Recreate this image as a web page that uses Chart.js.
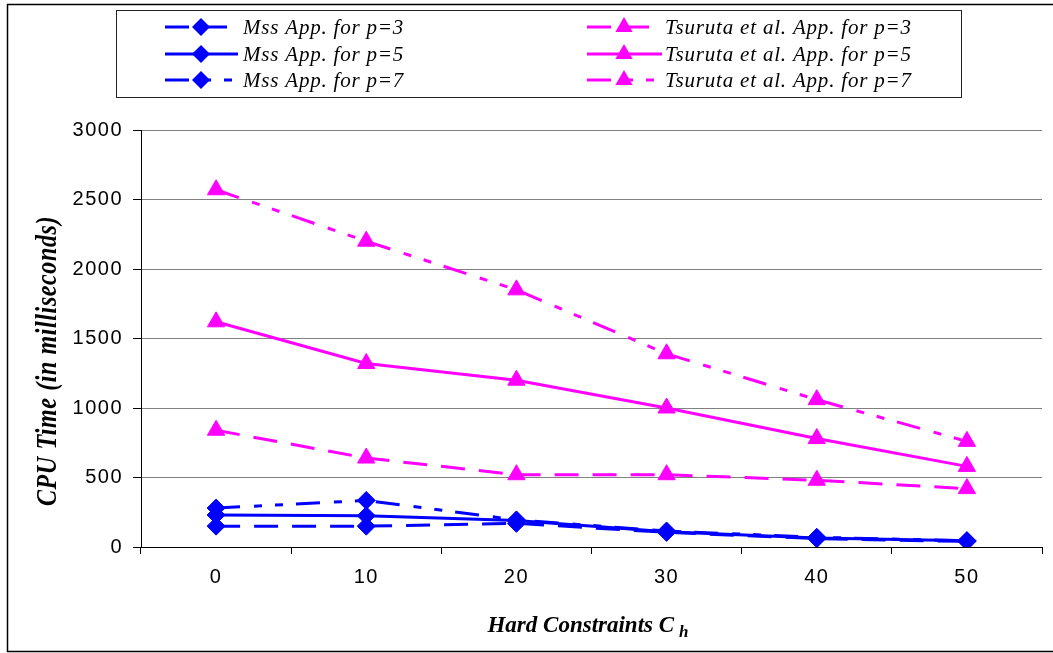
<!DOCTYPE html>
<html>
<head>
<meta charset="utf-8">
<script src="https://cdn.jsdelivr.net/npm/chart.js@4"></script>
<style>
  html, body { margin: 0; padding: 0; background: #fff; }
  #wrap { position: relative; width: 1053px; height: 653px; }
</style>
</head>
<body>
<div id="wrap"><canvas id="cpu" width="1053" height="653"></canvas></div>
<script>
// Hard constraints on the x axis
const hardConstraints = ['0', '10', '20', '30', '40', '50'];

// CPU time in milliseconds
const mssP3 = [150, 150, 170, 105, 60, 40];
const mssP5 = [230, 225, 190, 110, 65, 45];
const mssP7 = [280, 335, 195, 115, 70, 45];
const tsurutaP3 = [840, 640, 520, 520, 480, 420];
const tsurutaP5 = [1620, 1320, 1200, 1000, 780, 580];
const tsurutaP7 = [2570, 2200, 1850, 1390, 1060, 760];

// Value axis ticks
const yTickValues = [0, 500, 1000, 1500, 2000, 2500, 3000];

const seriesLabels = [
  'Mss App. for p=3', 'Mss App. for p=5', 'Mss App. for p=7',
  'Tsuruta et al. App. for p=3', 'Tsuruta et al. App. for p=5', 'Tsuruta et al. App. for p=7'
];

const BLUE = '#0000FF';
const MAGENTA = '#FF00FF';
const DASH = [24, 14];
const DASH_DOT_DOT = [24, 14, 8, 13, 8, 13];

function series(label, data, color, dash, style, radius) {
  return {
    label, data,
    borderColor: color, backgroundColor: color,
    borderWidth: 3, borderDash: dash,
    pointStyle: style, pointRadius: radius, pointHoverRadius: radius,
    pointBackgroundColor: color, pointBorderColor: color, pointBorderWidth: 1,
    tension: 0, fill: false
  };
}

const datasets = [
  series(seriesLabels[0], mssP3, BLUE, DASH, 'rectRot', 9),
  series(seriesLabels[1], mssP5, BLUE, [], 'rectRot', 9),
  series(seriesLabels[2], mssP7, BLUE, DASH_DOT_DOT, 'rectRot', 9),
  series(seriesLabels[3], tsurutaP3, MAGENTA, DASH, 'triangle', 10),
  series(seriesLabels[4], tsurutaP5, MAGENTA, [], 'triangle', 10),
  series(seriesLabels[5], tsurutaP7, MAGENTA, DASH_DOT_DOT, 'triangle', 10)
];

// Tick labels are drawn slightly letter-spaced
const tickSpacing = {
  id: 'tickSpacing',
  beforeLayout(chart) { chart.ctx.letterSpacing = '1.5px'; },
  beforeDraw(chart) { chart.ctx.letterSpacing = '1.5px'; }
};

function drawMarker(ctx, style, x, y, r, color) {
  ctx.save();
  ctx.fillStyle = color;
  ctx.beginPath();
  if (style === 'rectRot') {
    ctx.moveTo(x, y - r); ctx.lineTo(x + r, y); ctx.lineTo(x, y + r); ctx.lineTo(x - r, y);
  } else {
    const h = r * 1.5, w = r * Math.sqrt(3) / 2;
    ctx.moveTo(x, y - r); ctx.lineTo(x + w, y - r + h); ctx.lineTo(x - w, y - r + h);
  }
  ctx.closePath();
  ctx.fill();
  ctx.restore();
}

// Frame, boxed legend and axis titles
const decorations = {
  id: 'decorations',
  afterDraw(chart) {
    const ctx = chart.ctx;
    ctx.save();
    ctx.letterSpacing = '0px';

    // outer frame
    ctx.strokeStyle = '#000';
    ctx.lineWidth = 1.5;
    ctx.strokeRect(7.5, 4.5, 1060, 647);

    // legend box
    ctx.lineWidth = 1;
    ctx.strokeStyle = '#222';
    ctx.strokeRect(116.5, 10.5, 845, 87);

    const cols = [
      { x0: 165, x1: 238, mx: 201, tx: 243 },
      { x0: 587, x1: 662, mx: 624, tx: 665 }
    ];
    const rows = [27, 54, 80];
    chart.data.datasets.forEach((ds, i) => {
      const c = cols[i < 3 ? 0 : 1];
      const y = rows[i % 3];
      ctx.save();
      ctx.strokeStyle = ds.borderColor;
      ctx.lineWidth = ds.borderWidth;
      ctx.setLineDash(ds.borderDash);
      ctx.beginPath();
      ctx.moveTo(c.x0, y); ctx.lineTo(c.x1, y);
      ctx.stroke();
      ctx.restore();
      drawMarker(ctx, ds.pointStyle, c.mx, y, ds.pointRadius, ds.pointBackgroundColor);
      ctx.save();
      ctx.fillStyle = '#000';
      ctx.font = 'italic 21px "Liberation Serif"';
      ctx.letterSpacing = '0.8px';
      ctx.textBaseline = 'middle';
      ctx.textAlign = 'left';
      ctx.fillText(ds.label, c.tx, y + 1);
      ctx.restore();
    });

    // y axis title
    ctx.save();
    ctx.translate(48, 361);
    ctx.rotate(-Math.PI / 2);
    ctx.scale(1, 1.25);
    ctx.font = 'italic bold 24px "Liberation Serif"';
    ctx.letterSpacing = '0.6px';
    ctx.fillStyle = '#000';
    ctx.textAlign = 'center';
    ctx.textBaseline = 'middle';
    ctx.fillText('CPU Time (in milliseconds)', 0, 0);
    ctx.restore();

    // x axis title with subscript
    ctx.save();
    ctx.fillStyle = '#000';
    ctx.textBaseline = 'alphabetic';
    ctx.textAlign = 'left';
    const mainText = 'Hard Constraints C';
    ctx.font = 'italic bold 23px "Liberation Serif"';
    const w1 = ctx.measureText(mainText).width;
    ctx.font = 'italic bold 17px "Liberation Serif"';
    const w2 = ctx.measureText('h').width;
    const gap = 5;
    const cx = 588;
    const sx = cx - (w1 + gap + w2) / 2;
    ctx.font = 'italic bold 23px "Liberation Serif"';
    ctx.fillText(mainText, sx, 632);
    ctx.font = 'italic bold 17px "Liberation Serif"';
    ctx.fillText('h', sx + w1 + gap, 637);
    ctx.restore();

    ctx.restore();
  }
};

new Chart(document.getElementById('cpu'), {
  type: 'line',
  data: { labels: hardConstraints, datasets },
  options: {
    responsive: false,
    animation: false,
    layout: { padding: { left: 0, right: 9, top: 130, bottom: 0 } },
    plugins: { legend: { display: false }, tooltip: { enabled: false } },
    scales: {
      x: {
        type: 'category',
        offset: true,
        grid: { offset: true, drawOnChartArea: false, drawTicks: true, tickLength: 7, color: '#000', lineWidth: 1 },
        border: { color: '#000', width: 1 },
        ticks: { color: '#000', font: { family: 'Liberation Sans', size: 20 }, padding: 11, maxRotation: 0 },
        afterFit(scale) { scale.height = 106; }
      },
      y: {
        min: 0, max: 3000,
        afterBuildTicks(scale) { scale.ticks = yTickValues.map(v => ({ value: v })); },
        grid: { color: '#808080', tickColor: '#000', tickLength: 8, lineWidth: 1 },
        border: { color: '#000', width: 1 },
        ticks: {
          color: '#000', font: { family: 'Liberation Sans', size: 20 }, padding: 10,
          callback: (v) => String(v)
        },
        afterFit(scale) { scale.width = 141; }
      }
    }
  },
  plugins: [tickSpacing, decorations]
});
</script>
</body>
</html>
